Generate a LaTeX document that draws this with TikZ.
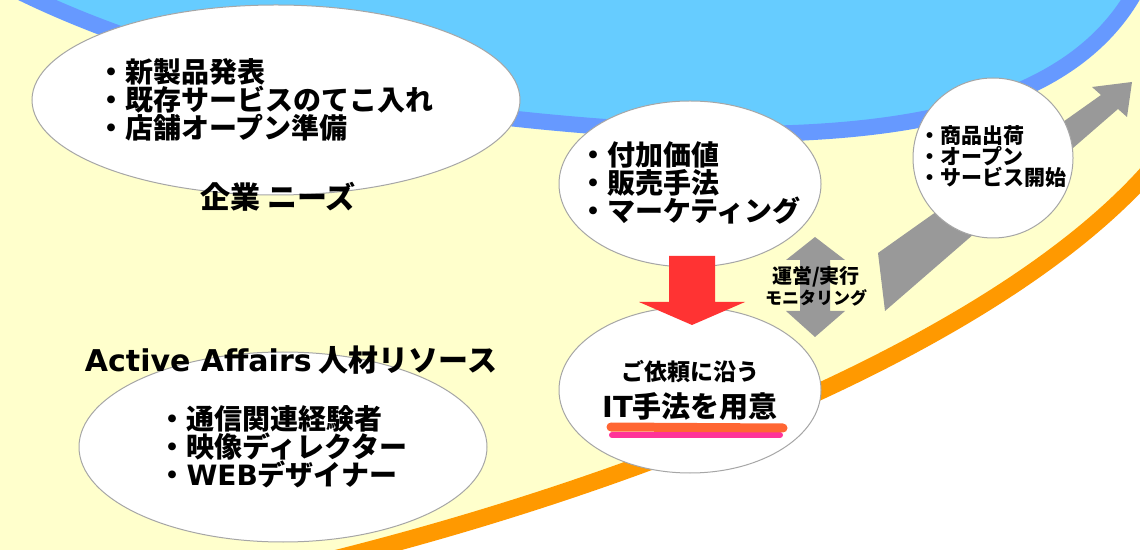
\documentclass[tikz,border=0pt]{standalone}
\usepackage{fontspec}
\setmainfont{Noto Sans CJK JP}
\newfontfamily\latinfont{DejaVu Sans}
\usetikzlibrary{shapes.geometric}
\definecolor{skyblue}{HTML}{66CCFF}
\definecolor{bandblue}{HTML}{6699FF}
\definecolor{paleyellow}{HTML}{FFFFCC}
\definecolor{bandorange}{HTML}{FF9900}
\definecolor{arrowgray}{HTML}{999999}
\definecolor{arrowred}{HTML}{FF3333}
\definecolor{markorange}{HTML}{FF6633}
\definecolor{markpink}{HTML}{FF3399}
\newcommand{\jpsize}[2]{\fontsize{#1}{#2}\selectfont}
\tikzset{
    bubble/.style={ellipse, draw=gray!70, line width=0.5pt, fill=white, inner sep=0pt},
    bubbletext/.style={align=left, inner sep=0pt, font=\bfseries\jpsize{#1}{#1}},
    headline/.style={inner sep=0pt, font=\bfseries\jpsize{15}{15}}
}

\begin{document}
\begin{tikzpicture}[x=0.5pt, y=-0.5pt]
\useasboundingbox (0,0) rectangle (1140,550);
\fill[white] (0,0) rectangle (1140,550);
\fill[paleyellow] (-10,-10) -- (1150,-10) -- (1150,170) .. controls (1000,340) and (650,480) .. (330,560) -- (-10,560) -- cycle;
\draw[bandorange, line width=8.5pt] (1150,170) .. controls (1000,340) and (650,480) .. (330,560);
\fill[skyblue] (20,-8) .. controls (200,80) and (450,125) .. (740,134) .. controls (950,134) and (1080,90) .. (1135,-8) -- cycle;
\draw[bandblue, line width=8pt] (20,-8) .. controls (200,80) and (450,125) .. (740,134) .. controls (950,134) and (1080,90) .. (1135,-8);

\fill[arrowgray] (878,253) -- (1101,95) -- (1092,87) -- (1132,82) -- (1127,117) -- (1118,109) -- (885,311) -- cycle;
\fill[arrowgray] (815,237) -- (845,260) -- (830,260) -- (830,311) -- (845,311) -- (815,337) -- (786,311) -- (800,311) -- (800,260) -- (786,260) -- cycle;

\node[bubble, minimum width=244pt, minimum height=95pt] (needs) at (276,100) {};
\node[bubble, minimum width=131pt, minimum height=83pt] (value) at (690,184) {};
\node[bubble, minimum width=80pt, minimum height=80pt] (launch) at (993,158) {};
\node[bubble, minimum width=131pt, minimum height=83pt, align=center, font=\bfseries\jpsize{14.5}{18.5}] (method) at (690,390) {{\jpsize{11.5}{18.5}ご依頼に沿う}\\{\latinfont IT}手法を用意};
\node[bubble, minimum width=204pt, minimum height=95pt, bubbletext=14] (staff) at (283,447) {・通信関連経験者\\・映像ディレクター\\・{\latinfont WEB}デザイナー};

\fill[arrowred] (669,256) -- (715,256) -- (715,302) -- (745,302) -- (692,325) -- (639,302) -- (669,302) -- cycle;

\node[bubbletext=14] (needslist) at ([xshift=-5.5pt]needs.center) {・新製品発表\\・既存サービスのてこ入れ\\・店舗オープン準備};
\node[bubbletext=14] (valuelist) at ([yshift=0.5pt]value.center) {・付加価値\\・販売手法\\・マーケティング};
\node[bubbletext=10.5] (launchlist) at ([yshift=0.5pt]launch.center) {・商品出荷\\・オープン\\・サービス開始};
\node[headline] (needstitle) at (278,197) {企業 ニーズ};
\node[headline] (stafftitle) at (291,360) {{\latinfont Active Affairs} 人材リソース};
\node[align=center, inner sep=0pt, font=\bfseries\jpsize{10}{9}] (ops) at (816,286) {運営/実行\\{\jpsize{8.5}{9}モニタリング}};

\draw[markpink, line width=3pt, line cap=round] (612,435) -- (780,435);
\draw[markorange, line width=4.5pt, line cap=round] (611,427) -- (783,428);
\end{tikzpicture}
\end{document}
